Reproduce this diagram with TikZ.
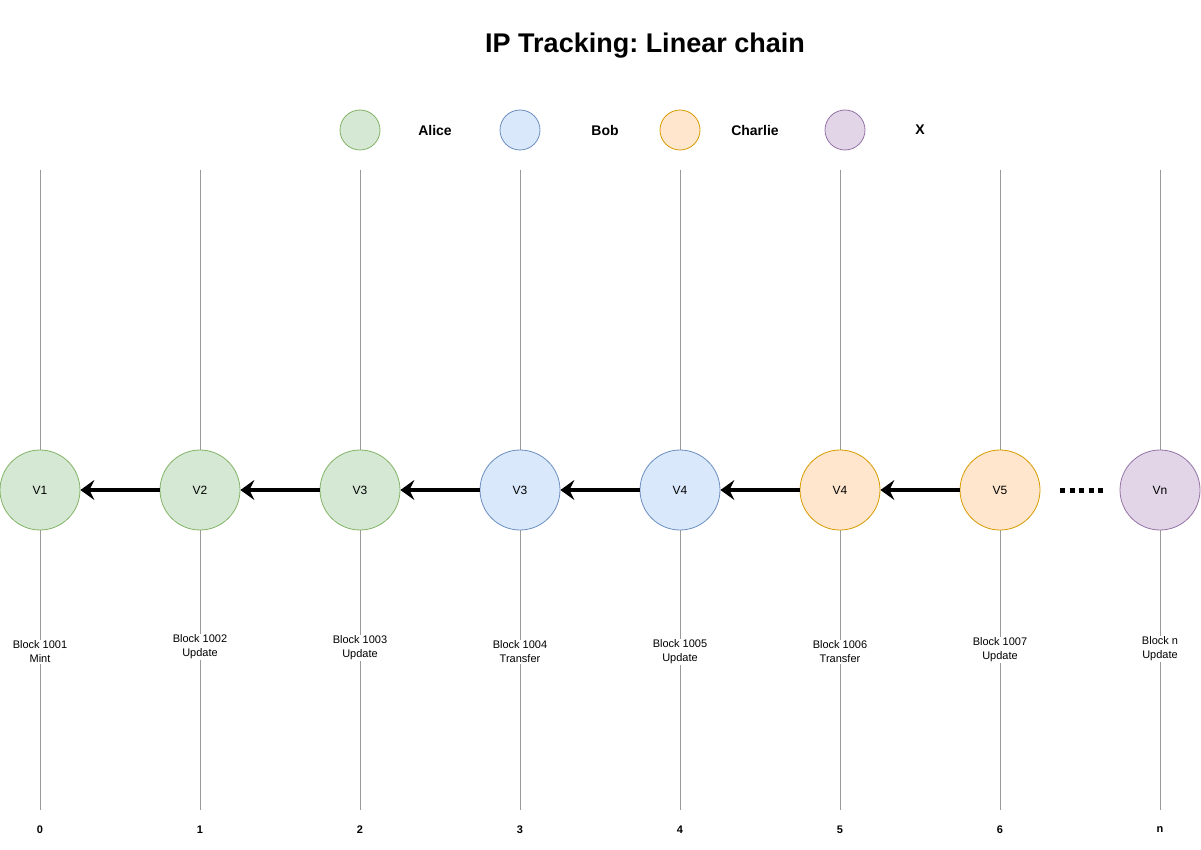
\documentclass[tikz,border=0pt]{standalone}
\usepackage{fontspec}
\setmainfont{Liberation Sans}
\usetikzlibrary{arrows.meta}
\frenchspacing
\definecolor{gfill}{HTML}{D5E8D4}\definecolor{gline}{HTML}{82B366}
\definecolor{bfill}{HTML}{DAE8FC}\definecolor{bline}{HTML}{6C8EBF}
\definecolor{ofill}{HTML}{FFE6CC}\definecolor{oline}{HTML}{D79B00}
\definecolor{pfill}{HTML}{E1D5E7}\definecolor{pline}{HTML}{9673A6}
\definecolor{axis}{HTML}{999999}
\begin{document}
\begin{tikzpicture}[x=1pt,y=-1pt,
  vnode/.style={circle,minimum size=80pt,inner sep=0pt,line width=0.8pt,font=\fontsize{12}{14}\selectfont},
  lnode/.style={circle,minimum size=40pt,inner sep=0pt,line width=0.8pt},
  alice/.style={fill=gfill,draw=gline},
  bob/.style={fill=bfill,draw=bline},
  charlie/.style={fill=ofill,draw=oline},
  xs/.style={fill=pfill,draw=pline},
  legtext/.style={font=\bfseries\fontsize{14}{16}\selectfont},
  blocklab/.style={fill=white,inner sep=1pt,align=center,font=\fontsize{11}{14}\selectfont},
  steplab/.style={font=\bfseries\fontsize{11}{13}\selectfont},
  timeline/.style={draw=axis,line width=0.8pt},
  chain/.style={line width=3.2pt,-{Stealth[length=14pt,width=20pt,inset=5pt]}},
]
\useasboundingbox (0,0) rectangle (1201,850);
\node[font=\bfseries\fontsize{27}{32}\selectfont] (title) at (645,46) {IP Tracking: Linear chain};
% legend
\node[lnode,alice] (la) at (360,130) {};
\node[legtext] (lat) at (435,130) {Alice};
\node[lnode,bob] (lb) at (520,130) {};
\node[legtext] (lbt) at (605,130) {Bob};
\node[lnode,charlie] (lc) at (680,130) {};
\node[legtext] (lct) at (755,130) {Charlie};
\node[lnode,xs] (lx) at (845,130) {};
\node[legtext] (lxt) at (920,130) {X};
% timelines
\foreach \i/\x/\s in {0/40/0,1/200/1,2/360/2,3/520/3,4/680/4,5/840/5,6/1000/6,7/1160/n}{
  \coordinate (top\i) at (\x,170);
  \coordinate (bot\i) at (\x,810);
  \draw[timeline] (top\i) -- (bot\i);
  \node[steplab] (s\i) at (\x,830) {\s};
}
% block labels
\node[blocklab] (b0) at (40,652) {Block 1001\\Mint};
\node[blocklab] (b1) at (200,647) {Block 1002\\Update};
\node[blocklab] (b2) at (360,648) {Block 1003\\Update};
\node[blocklab] (b3) at (520,652) {Block 1004\\Transfer};
\node[blocklab] (b4) at (680,652) {Block 1005\\Update};
\node[blocklab] (b5) at (840,652) {Block 1006\\Transfer};
\node[blocklab] (b6) at (1000,650) {Block 1007\\Update};
\node[blocklab] (b7) at (1160,649) {Block n\\Update};
% version nodes
\node[vnode,alice] (v0) at (40,490) {V1};
\node[vnode,alice] (v1) at (200,490) {V2};
\node[vnode,alice] (v2) at (360,490) {V3};
\node[vnode,bob] (v3) at (520,490) {V3};
\node[vnode,bob] (v4) at (680,490) {V4};
\node[vnode,charlie] (v5) at (840,490) {V4};
\node[vnode,charlie] (v6) at (1000,490) {V5};
\node[vnode,xs] (v7) at (1160,490) {Vn};
% chain
\foreach \a/\b in {1/0,2/1,3/2,4/3,5/4,6/5}{
  \draw[chain] (v\a) -- (v\b);
}
\coordinate (d1) at (1060,490);
\coordinate (d2) at (1106,490);
\draw[line width=5pt,dash pattern=on 5pt off 4.5pt] (d1) -- (d2);
\end{tikzpicture}
\end{document}
